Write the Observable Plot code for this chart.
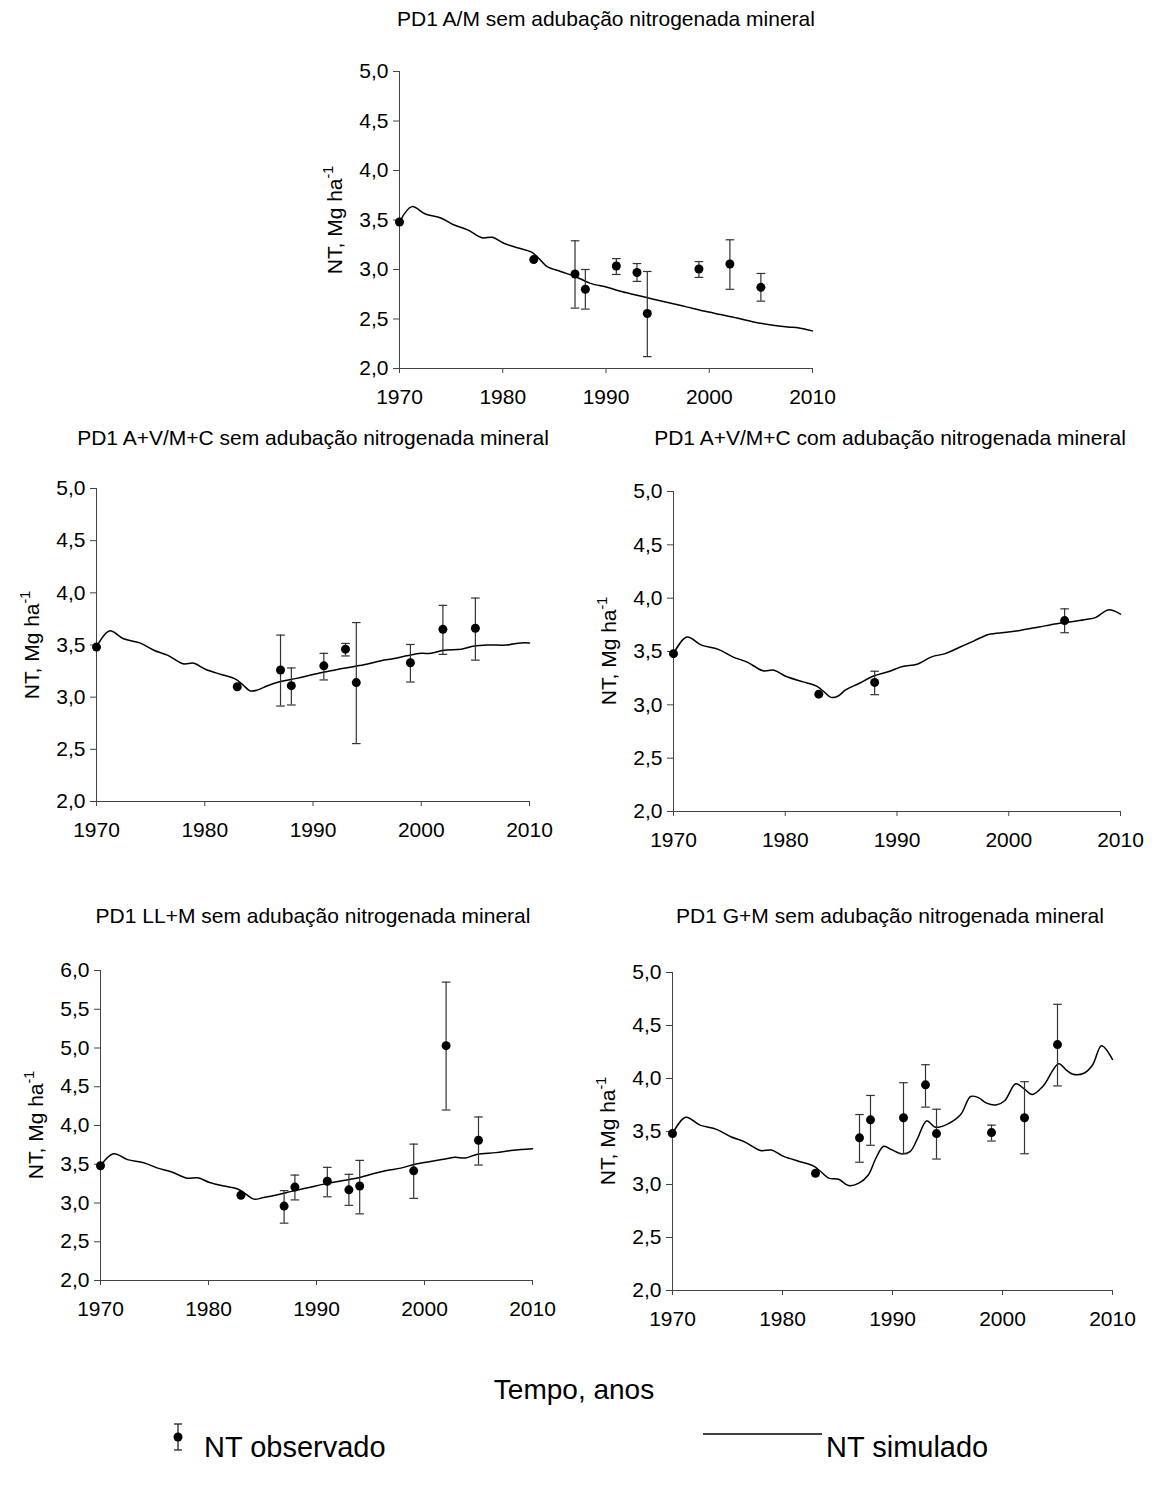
<!DOCTYPE html>
<html><head><meta charset="utf-8">
<script src="https://cdn.jsdelivr.net/npm/d3@7"></script>
<script src="https://cdn.jsdelivr.net/npm/@observablehq/plot@0.6"></script>
<style>
body{margin:0;background:#fff;font-family:"Liberation Sans",Arial,sans-serif;}
#root{position:relative;width:1157px;height:1488px;overflow:hidden;background:#fff;}
.abs{position:absolute;white-space:nowrap;color:#000;line-height:1;}
.ytitle sup{font-size:0.68em;position:relative;top:-0.1em;}
</style></head><body><div id="root"></div>
<script>
// ---------- DATA ----------
const xTicks = [1970, 1980, 1990, 2000, 2010];
const titles = [
  "PD1 A/M sem adubação nitrogenada mineral",
  "PD1 A+V/M+C sem adubação nitrogenada mineral",
  "PD1 A+V/M+C com adubação nitrogenada mineral",
  "PD1 LL+M sem adubação nitrogenada mineral",
  "PD1 G+M sem adubação nitrogenada mineral"
];
const yTitle = "NT, Mg ha";
const xTitle = "Tempo, anos";
const legendObs = "NT observado";
const legendSim = "NT simulado";

// shared simulated start (1970-1983)
const simBaseYears = [1970, 1971.2, 1972.5, 1974, 1975.3, 1976.6, 1978, 1979, 1980.1, 1981.6, 1982.8];
const simBaseVals  = [3.48, 3.635, 3.56, 3.52, 3.45, 3.40, 3.32, 3.325, 3.265, 3.215, 3.175];

// Panel 1
const obsYears1 = [1970, 1983, 1987, 1988, 1991, 1993, 1994, 1999, 2002, 2005];
const obsVals1  = [3.48, 3.10, 2.955, 2.80, 3.035, 2.97, 2.555, 3.005, 3.055, 2.82];
const obsHi1    = [null, null, 3.29, 3.00, 3.11, 3.06, 2.98, 3.08, 3.30, 2.96];
const obsLo1    = [null, null, 2.61, 2.60, 2.95, 2.88, 2.12, 2.92, 2.80, 2.68];
const simYears1 = [1983.7, 1984.3, 1985.6, 1987, 1988.5, 1990.1, 1991.4, 1993, 1994.6, 1996.3, 1997.9, 1999.5, 2001.1, 2002.7, 2004.3, 2006, 2007.6, 2008.7, 2010];
const simVals1  = [3.09, 3.03, 2.98, 2.93, 2.86, 2.82, 2.78, 2.74, 2.70, 2.66, 2.62, 2.58, 2.545, 2.51, 2.47, 2.44, 2.42, 2.41, 2.38];

// Panel 2
const obsYears2 = [1970, 1983, 1987, 1988, 1991, 1993, 1994, 1999, 2002, 2005];
const obsVals2  = [3.48, 3.10, 3.26, 3.11, 3.30, 3.46, 3.14, 3.33, 3.65, 3.66];
const obsHi2    = [null, null, 3.595, 3.28, 3.42, 3.515, 3.715, 3.505, 3.88, 3.95];
const obsLo2    = [null, null, 2.915, 2.925, 3.165, 3.395, 2.555, 3.145, 3.41, 3.355];
const simYears2 = [1983.5, 1984.2, 1984.9, 1985.8, 1987, 1988.5, 1990.1, 1991.5, 1993, 1994.7, 1996.3, 1997.5, 1998.8, 2000, 2000.9, 2002.1, 2003.7, 2004.9, 2006.1, 2007.9, 2009.2, 2010];
const simVals2  = [3.12, 3.06, 3.07, 3.11, 3.15, 3.18, 3.22, 3.25, 3.28, 3.31, 3.35, 3.37, 3.40, 3.42, 3.42, 3.45, 3.46, 3.49, 3.50, 3.50, 3.52, 3.52];

// Panel 3
const obsYears3 = [1970, 1983, 1988, 2005];
const obsVals3  = [3.48, 3.10, 3.21, 3.79];
const obsHi3    = [null, null, 3.315, 3.90];
const obsLo3    = [null, null, 3.095, 3.676];
const simYears3 = [1983.5, 1984.1, 1984.7, 1985.4, 1986.6, 1987.9, 1989.2, 1990.5, 1991.8, 1993.1, 1994.3, 1995.6, 1996.9, 1998.2, 1999.8, 2001.1, 2002.7, 2004.3, 2005.6, 2006.9, 2007.8, 2008.9, 2010];
const simVals3  = [3.12, 3.07, 3.08, 3.14, 3.20, 3.27, 3.31, 3.36, 3.38, 3.45, 3.48, 3.54, 3.60, 3.66, 3.68, 3.70, 3.73, 3.76, 3.78, 3.80, 3.82, 3.89, 3.85];

// Panel 4
const obsYears4 = [1970, 1983, 1987, 1988, 1991, 1993, 1994, 1999, 2002, 2005];
const obsVals4  = [3.48, 3.10, 2.96, 3.205, 3.28, 3.17, 3.22, 3.415, 5.03, 3.81];
const obsHi4    = [null, null, 3.16, 3.36, 3.46, 3.37, 3.55, 3.76, 5.85, 4.11];
const obsLo4    = [null, null, 2.74, 3.04, 3.08, 2.97, 2.86, 3.06, 4.20, 3.49];
const simYears4 = [1983.5, 1984.2, 1985.1, 1986.5, 1987.7, 1989.3, 1990.9, 1992.5, 1994, 1995.3, 1996.5, 1997.8, 1999.1, 2000.3, 2001.6, 2002.8, 2003.8, 2004.9, 2006.6, 2008.2, 2010];
const simVals4  = [3.11, 3.05, 3.07, 3.11, 3.15, 3.20, 3.25, 3.29, 3.33, 3.38, 3.42, 3.45, 3.50, 3.53, 3.56, 3.59, 3.58, 3.63, 3.65, 3.68, 3.70];

// Panel 5
const obsYears5 = [1970, 1983, 1987, 1988, 1991, 1993, 1994, 1999, 2002, 2005];
const obsVals5  = [3.48, 3.105, 3.44, 3.61, 3.63, 3.94, 3.48, 3.49, 3.63, 4.32];
const obsHi5    = [null, null, 3.66, 3.84, 3.96, 4.13, 3.71, 3.56, 3.97, 4.70];
const obsLo5    = [null, null, 3.21, 3.37, 3.29, 3.73, 3.24, 3.41, 3.29, 3.93];
const simYears5 = [1983.5, 1984.2, 1985.1, 1986, 1986.9, 1987.8, 1988.5, 1989.2, 1989.9, 1990.8, 1991.6, 1992.3, 1993.1, 1993.9, 1995, 1996.2, 1997.1, 1997.8, 1998.5, 1999.4, 2000.2, 2001.2, 2002, 2002.7, 2003.7, 2005.1, 2005.8, 2006.4, 2007.4, 2008.2, 2009, 2010];
const simVals5  = [3.12, 3.06, 3.05, 2.99, 3.01, 3.09, 3.25, 3.36, 3.33, 3.29, 3.31, 3.44, 3.60, 3.54, 3.57, 3.66, 3.83, 3.82, 3.77, 3.75, 3.79, 3.95, 3.90, 3.85, 3.93, 4.14, 4.08, 4.04, 4.05, 4.13, 4.31, 4.18];

// ---------- LAYOUT ----------
const panels = [
  {x0:399, x1:812, y0:71,  y1:368,  yMax:5, tx:606, ty:18,  obsX:obsYears1, obsY:obsVals1, hi:obsHi1, lo:obsLo1, simX:simYears1, simY:simVals1},
  {x0:96,  x1:529, y0:488, y1:801,  yMax:5, tx:313, ty:437, obsX:obsYears2, obsY:obsVals2, hi:obsHi2, lo:obsLo2, simX:simYears2, simY:simVals2},
  {x0:673, x1:1120,y0:491, y1:811,  yMax:5, tx:890, ty:437, obsX:obsYears3, obsY:obsVals3, hi:obsHi3, lo:obsLo3, simX:simYears3, simY:simVals3},
  {x0:100, x1:532, y0:970, y1:1280, yMax:6, tx:313, ty:915, obsX:obsYears4, obsY:obsVals4, hi:obsHi4, lo:obsLo4, simX:simYears4, simY:simVals4},
  {x0:672, x1:1112,y0:972, y1:1290, yMax:5, tx:890, ty:915, obsX:obsYears5, obsY:obsVals5, hi:obsHi5, lo:obsLo5, simX:simYears5, simY:simVals5}
];

const root = document.getElementById("root");
const FONT = '"Liberation Sans", Arial, sans-serif';
const fmt = d => d.toFixed(1).replace(".", ",");
const capSymbol = {draw(ctx, size){ const r = Math.sqrt(size / Math.PI); ctx.moveTo(-r, 0); ctx.lineTo(r, 0); }};

function addText(html, cx, cy, size, extra){
  const d = document.createElement("div");
  d.className = "abs" + (extra ? " " + extra : "");
  d.innerHTML = html;
  d.style.left = cx + "px";
  d.style.top = cy + "px";
  d.style.fontSize = size + "px";
  d.style.fontFamily = FONT;
  d.style.transform = "translate(-50%,-50%)" + (extra === "ytitle" ? " rotate(-90deg)" : "");
  root.appendChild(d);
  return d;
}

panels.forEach((p, k) => {
  const mL = 70, mR = 45, mT = 12, mB = 50;
  const W = (p.x1 - p.x0) + mL + mR;
  const H = (p.y1 - p.y0) + mT + mB;
  const obs = p.obsX.map((x, i) => ({x, y: p.obsY[i], hi: p.hi[i], lo: p.lo[i]}));
  const err = obs.filter(d => d.hi != null);
  const simX = simBaseYears.concat(p.simX);
  const simY = simBaseVals.concat(p.simY);
  const sim = simX.map((x, i) => ({x, y: simY[i]}));
  const yTicks = d3.range(2, p.yMax + 0.001, 0.5);
  const svg = Plot.plot({
    width: W, height: H,
    marginLeft: mL, marginRight: mR, marginTop: mT, marginBottom: mB,
    style: {fontFamily: FONT, fontSize: "21px", background: "transparent", overflow: "visible", color: "#000"},
    x: {domain: [1970, 2010]},
    y: {domain: [2, p.yMax]},
    marks: [
      Plot.axisY({ticks: yTicks, tickFormat: fmt, tickSize: 6, tickPadding: 5, label: null, stroke: "#444", fill: "#000"}),
      Plot.axisX({ticks: xTicks, tickFormat: d => String(d), tickSize: 5, tickPadding: 16, label: null, stroke: "#444", fill: "#000"}),
      Plot.ruleX([1970], {stroke: "#444"}),
      Plot.ruleY([2], {stroke: "#444"}),
      Plot.line(sim, {x: "x", y: "y", curve: "catmull-rom", stroke: "#000", strokeWidth: 1.5}),
      Plot.ruleX(err, {x: "x", y1: "lo", y2: "hi", stroke: "#333", strokeWidth: 1.2}),
      Plot.dot(err, {x: "x", y: "hi", symbol: capSymbol, r: 4.3, fill: "none", stroke: "#333", strokeWidth: 1.2}),
      Plot.dot(err, {x: "x", y: "lo", symbol: capSymbol, r: 4.3, fill: "none", stroke: "#333", strokeWidth: 1.2}),
      Plot.dot(obs, {x: "x", y: "y", r: 4.5, fill: "#000"})
    ]
  });
  svg.style.position = "absolute";
  svg.style.left = (p.x0 - mL) + "px";
  svg.style.top = (p.y0 - mT) + "px";
  root.appendChild(svg);

  addText(titles[k], p.tx, p.ty, 21);
  addText(yTitle + "<sup>-1</sup>", p.x0 - 66, (p.y0 + p.y1) / 2, 21, "ytitle");
});

addText(xTitle, 574, 1390, 28);

// legend
const leg = d3.select(root).append("svg")
  .style("position", "absolute").style("left", "0px").style("top", "1400px")
  .attr("width", 1157).attr("height", 88);
const gx = 178, gy = 1437 - 1400;
leg.append("line").attr("x1", gx).attr("x2", gx).attr("y1", gy - 13).attr("y2", gy + 13).attr("stroke", "#222").attr("stroke-width", 1.3);
leg.append("line").attr("x1", gx - 4).attr("x2", gx + 4).attr("y1", gy - 13).attr("y2", gy - 13).attr("stroke", "#222").attr("stroke-width", 1.3);
leg.append("line").attr("x1", gx - 4).attr("x2", gx + 4).attr("y1", gy + 13).attr("y2", gy + 13).attr("stroke", "#222").attr("stroke-width", 1.3);
leg.append("circle").attr("cx", gx).attr("cy", gy).attr("r", 4.5).attr("fill", "#000");
leg.append("line").attr("x1", 703).attr("x2", 822).attr("y1", 1434 - 1400).attr("y2", 1434 - 1400).attr("stroke", "#000").attr("stroke-width", 1.5);
const t1 = addText(legendObs, 0, 1447, 29);
t1.style.transform = "translate(0,-50%)"; t1.style.left = "204px";
const t2 = addText(legendSim, 0, 1447, 29);
t2.style.transform = "translate(0,-50%)"; t2.style.left = "826px";
</script></body></html>
